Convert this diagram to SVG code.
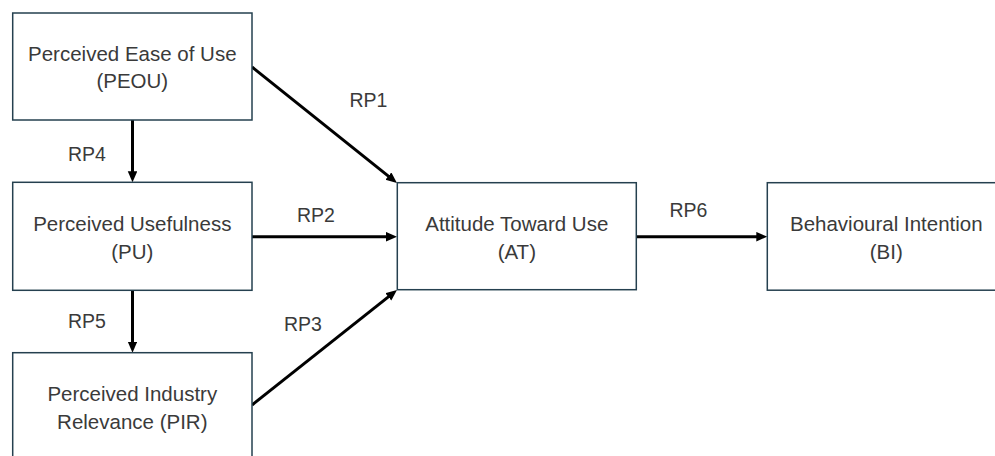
<svg xmlns="http://www.w3.org/2000/svg" width="995" height="456" viewBox="0 0 995 456">
  <defs>
    <style>
      .box { fill: #ffffff; stroke: #25404f; stroke-width: 1.5; }
      .label { font-family: "Liberation Sans", Arial, sans-serif; font-size: 20.5px; fill: #3a3a3a; text-anchor: middle; }
      .rp { font-family: "Liberation Sans", Arial, sans-serif; font-size: 19.5px; fill: #3a3a3a; }
      .link { stroke: #000000; stroke-width: 3; fill: none; marker-end: url(#head); }
    </style>
    <marker id="head" markerUnits="userSpaceOnUse" markerWidth="11" markerHeight="10" refX="4" refY="4.75" orient="auto">
      <path d="M0,0 L11,4.75 L0,9.5 Z" fill="#000000"/>
    </marker>
  </defs>
  <rect width="995" height="456" fill="#ffffff"/>

  <!-- connectors -->
  <g id="connectors">
    <line class="link" x1="252" y1="67" x2="391.5" y2="178.6"/>
    <line class="link" x1="252" y1="236.7" x2="390" y2="236.7"/>
    <line class="link" x1="252" y1="405" x2="391.5" y2="294.4"/>
    <line class="link" x1="132.5" y1="120" x2="132.5" y2="175.3"/>
    <line class="link" x1="132.5" y1="290.3" x2="132.5" y2="345.7"/>
    <line class="link" x1="636.3" y1="236.7" x2="760.3" y2="236.7"/>
    <text class="rp" x="349.5" y="107">RP1</text>
    <text class="rp" x="297" y="221.5">RP2</text>
    <text class="rp" x="284" y="330.5">RP3</text>
    <text class="rp" x="68" y="160.7">RP4</text>
    <text class="rp" x="68" y="328.3">RP5</text>
    <text class="rp" x="669.5" y="217.3">RP6</text>
  </g>

  <g id="peou">
    <rect class="box" x="12.7" y="13" width="239.3" height="107"/>
    <text class="label" x="132.3" y="60.5">Perceived Ease of Use</text>
    <text class="label" x="132.3" y="87.5">(PEOU)</text>
  </g>

  <g id="pu">
    <rect class="box" x="12.7" y="182.3" width="239.3" height="108"/>
    <text class="label" x="132.3" y="231">Perceived Usefulness</text>
    <text class="label" x="132.3" y="259">(PU)</text>
  </g>

  <g id="pir">
    <rect class="box" x="12.7" y="352.7" width="239.3" height="107"/>
    <text class="label" x="132.3" y="401">Perceived Industry</text>
    <text class="label" x="132.3" y="428.5">Relevance (PIR)</text>
  </g>

  <g id="at">
    <rect class="box" x="397.3" y="182.7" width="239" height="107"/>
    <text class="label" x="516.8" y="231">Attitude Toward Use</text>
    <text class="label" x="516.8" y="259">(AT)</text>
  </g>

  <g id="bi">
    <rect class="box" x="767.3" y="182.7" width="239" height="107.5"/>
    <text class="label" x="886.3" y="231">Behavioural Intention</text>
    <text class="label" x="886.3" y="259">(BI)</text>
  </g>
</svg>
